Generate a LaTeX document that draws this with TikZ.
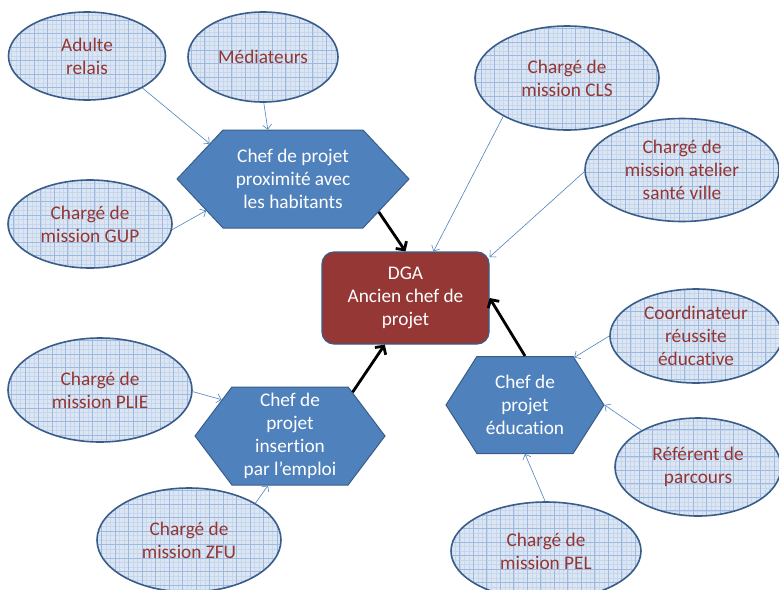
\documentclass[tikz,border=0pt]{standalone}
\usepackage{fontspec}
\setmainfont{Carlito}[Ligatures=CommonOff]
\usetikzlibrary{shapes.geometric,shapes.symbols,arrows.meta}
\definecolor{elfill}{HTML}{DCE6F2}
\definecolor{elgrid}{HTML}{9DB9E1}
\definecolor{elminor}{HTML}{C6D6EC}
\definecolor{elborder}{HTML}{385D8A}
\definecolor{eltext}{HTML}{943634}
\definecolor{hexfill}{HTML}{4F81BD}
\definecolor{dgafill}{HTML}{953735}
\definecolor{thinarrow}{HTML}{4F81BD}
\tikzset{
  txt/.style={font=\fontsize{19.3}{23}\selectfont, align=center},
  ell/.style={txt, ellipse, draw=elborder, line width=1.6pt, fill=elfill, text=eltext, inner sep=0pt,
    path picture={
      \draw[elminor, line width=0.3pt] (path picture bounding box.south west) grid[step=4.5pt] (path picture bounding box.north east);
      \draw[elgrid, line width=0.5pt] (path picture bounding box.south west) grid[step=13.5pt] (path picture bounding box.north east);
    }},
  hexa/.style={txt, signal, signal to=west and east, draw=elborder, line width=1pt, fill=hexfill, text=white, inner sep=0pt},
  dgabox/.style={txt, rectangle, rounded corners=12pt, draw=elborder, line width=1.2pt, fill=dgafill, text=white, inner sep=0pt},
  thinarr/.style={draw=thinarrow, line width=0.6pt, -{Straight Barb[length=4.5pt,width=9pt]}},
  thickarr/.style={draw=black, line width=2.8pt, -{Straight Barb[length=6pt,width=13pt]}}
}
\begin{document}
\begin{tikzpicture}[x=1pt,y=-1pt]
\useasboundingbox (0,0) rectangle (779,589);
% satellites
\node[ell, minimum width=157pt, minimum height=88pt] (adulte) at (87,56) {Adulte\\relais};
\node[ell, minimum width=150pt, minimum height=90pt] (mediat) at (263,57) {Médiateurs};
\node[ell, minimum width=164pt, minimum height=88pt] (gup) at (90,224) {Chargé de\\mission GUP};
\node[ell, minimum width=184pt, minimum height=104pt] (cls) at (567,78) {Chargé de\\mission CLS};
\node[ell, minimum width=194pt, minimum height=103pt] (asv) at (682,170) {Chargé de\\mission atelier\\santé ville};
\node[ell, minimum width=184pt, minimum height=104pt] (plie) at (100,390) {Chargé de\\mission PLIE};
\node[ell, minimum width=184pt, minimum height=104pt] (zfu) at (189,540) {Chargé de\\mission ZFU};
\node[ell, minimum width=172pt, minimum height=94pt] (coord) at (696,336) {Coordinateur\\réussite\\éducative};
\node[ell, minimum width=166pt, minimum height=98pt] (refer) at (698,467) {Référent de\\parcours};
\node[ell, minimum width=190pt, minimum height=98pt] (pel) at (546,551) {Chargé de\\mission PEL};
% heads
\node[hexa, signal pointer angle=93.6, minimum width=232pt, minimum height=98pt] (prox) at (293,179) {Chef de projet\\proximité avec\\les habitants};
\node[hexa, signal pointer angle=106, minimum width=190pt, minimum height=98pt] (insert) at (290,436) {Chef de\\projet\\insertion\\par l’emploi};
\node[hexa, signal pointer angle=115, minimum width=158pt, minimum height=97pt] (educ) at (525,405) {Chef de\\projet\\éducation};
\node[dgabox, minimum width=167pt, minimum height=92pt] (dga) at (405.5,298) {DGA\\Ancien chef de\\projet};
% thin connectors
\draw[thinarr] (adulte.-30) -- (prox.157);
\draw[thinarr] (mediat.-89) -- (prox.117);
\draw[thinarr] (gup.-4) -- (prox.200);
\draw[thinarr] (cls.-149) -- (dga.59);
\draw[thinarr] (asv.181) -- (dga.26);
\draw[thinarr] (plie.-1) -- (insert.152);
\draw[thinarr] (zfu.29) -- (insert.246);
\draw[thinarr] (coord.180) -- (educ.44);
\draw[thinarr] (refer.147) -- (educ.0);
\draw[thinarr] (pel.91) -- (educ.-90);
% thick connectors
\draw[thickarr] (prox.-21) -- (dga.90);
\draw[thickarr] (insert.35) -- (dga.-114);
\draw[thickarr] (educ.90) -- (dga.0);
\end{tikzpicture}
\end{document}
